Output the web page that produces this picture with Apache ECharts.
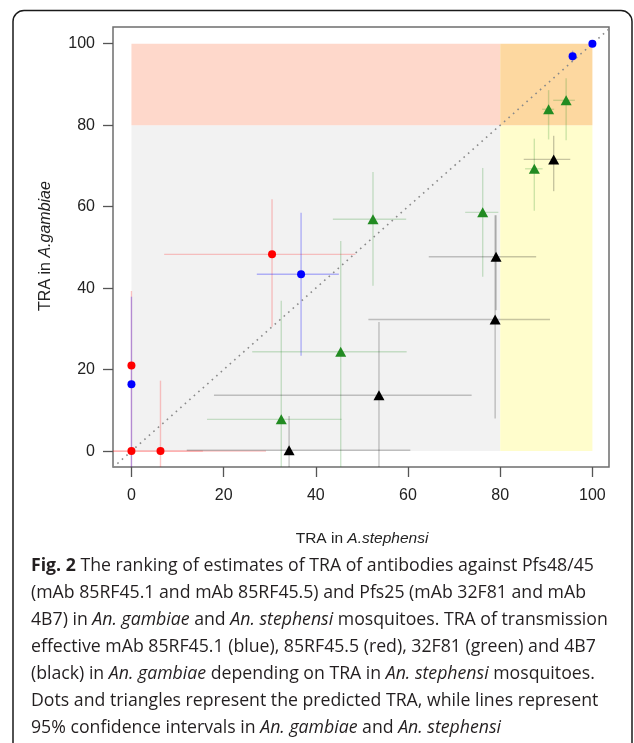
<!DOCTYPE html>
<html><head><meta charset="utf-8">
<script src="https://cdn.jsdelivr.net/npm/echarts@6/dist/echarts.min.js"></script>
<style>html,body{margin:0;padding:0;background:#fff}#c{width:634px;height:743px}</style>
</head><body><div id="c"></div>
<script>
// ---- data ----
const tickValues = [0, 20, 40, 60, 80, 100];
const zoneX = [0, 80, 100];
const zoneY = [0, 80, 100];
const diagonal = [[-5, -5], [105, 105]];

// mAb 85RF45.1 (blue)
const blueX   = [100, 95.7, 36.8, 0];
const blueY   = [100, 96.9, 43.4, 16.4];
const blueXlo = [100, 95.7, 27.2, 0];
const blueXhi = [100, 95.7, 45.0, 0];
const blueYlo = [100, 95.7, 23.4, -10];
const blueYhi = [100, 98.3, 58.5, 37.9];

// mAb 85RF45.5 (red)
const redX   = [30.5, 0, 0, 6.3];
const redY   = [48.3, 21.0, 0, 0];
const redXlo = [7.1, 0, -10, -10];
const redXhi = [48.6, 0, 15.5, 29.2];
const redYlo = [30.5, -10, 0, -10];
const redYhi = [61.8, 39.3, 0, 17.3];

// mAb 32F81 (green)
const greenX   = [94.3, 90.5, 87.4, 76.2, 52.4, 45.4, 32.5];
const greenY   = [86.1, 83.9, 69.3, 58.6, 56.9, 24.4, 7.8];
const greenXlo = [91.5, 89.1, 85.4, 72.4, 43.7, 26.2, 16.4];
const greenXhi = [96.2, 91.7, 89.2, 79.6, 59.6, 59.7, 45.6];
const greenYlo = [76.3, 76.5, 59.0, 42.8, 40.6, -10, -10];
const greenYhi = [91.5, 88.6, 76.7, 69.5, 68.5, 51.6, 36.9];

// mAb 4B7 (black)
const blackX   = [91.6, 79.1, 78.9, 53.7, 34.2];
const blackY   = [71.6, 47.7, 32.3, 13.7, 0.2];
const blackXlo = [85.1, 64.5, 51.4, 17.9, 12.0];
const blackXhi = [95.2, 87.8, 90.8, 73.8, 60.5];
const blackYlo = [63.8, 34.6, 8.0, -10, -10];
const blackYhi = [77.4, 57.9, 57.9, 31.7, 8.6];

const xTitle = ['TRA in ', 'A.stephensi'];
const yTitle = ['TRA in ', 'A.gambiae'];
const captionLines = [
  '{b|Fig. 2} The ranking of estimates of TRA of antibodies against Pfs48/45',
  '(mAb 85RF45.1 and mAb 85RF45.5) and Pfs25 (mAb 32F81 and mAb',
  '4B7) in {i|An. gambiae} and {i|An. stephensi} mosquitoes. TRA of transmission',
  'effective mAb 85RF45.1 (blue), 85RF45.5 (red), 32F81 (green) and 4B7',
  '(black) in {i|An. gambiae} depending on TRA in {i|An. stephensi} mosquitoes.',
  'Dots and triangles represent the predicted TRA, while lines represent',
  '95% confidence intervals in {i|An. gambiae} and {i|An. stephensi}'
];

// ---- helpers ----
function zip(xs, ys) { return xs.map((x, i) => [x, ys[i]]); }
function ciData(xs, ys, xlo, xhi, ylo, yhi) {
  return xs.map((x, i) => [x, ys[i], xlo[i], xhi[i], ylo[i], yhi[i]]);
}
function ciSeries(data, color) {
  return {
    type: 'custom', clip: true, z: 3, silent: true,
    data: data,
    encode: { x: 0, y: 1 },
    renderItem: function (params, api) {
      const x = api.value(0), y = api.value(1);
      const a = api.coord([api.value(2), y]), b = api.coord([api.value(3), y]);
      const c = api.coord([x, api.value(4)]), d = api.coord([x, api.value(5)]);
      const st = { stroke: color, lineWidth: 1.4, fill: null };
      return { type: 'group', children: [
        { type: 'line', shape: { x1: a[0], y1: a[1], x2: b[0], y2: b[1] }, style: st },
        { type: 'line', shape: { x1: c[0], y1: c[1], x2: d[0], y2: d[1] }, style: st }
      ]};
    }
  };
}

const chart = echarts.init(document.getElementById('c'), null, { renderer: 'canvas' });
const axisFont = 'Liberation Sans, Arial, sans-serif';
const capFont = 'Open Sans, sans-serif';
const capFontSize = 17.7;

const zoneColors = ['#F2F2F2', '#FFFDCC', '#FED8CB', '#FDD8A0'];

const graphics = [
  { type: 'rect', shape: { x: 13, y: 10.5, width: 619, height: 748, r: 11 },
    style: { fill: null, stroke: '#1a1a1a', lineWidth: 1.5 }, z: 100 },
  { type: 'text', x: 362, y: 539, z: 100,
    style: { text: xTitle[0] + '{i|' + xTitle[1] + '}', align: 'center', verticalAlign: 'middle',
      fontFamily: axisFont, fontSize: 15.5, fill: '#222',
      rich: { i: { fontFamily: axisFont, fontSize: 15.5, fontStyle: 'italic', fill: '#222' } } } },
  { type: 'text', x: 46, y: 246, rotation: Math.PI / 2, z: 100,
    style: { text: yTitle[0] + '{i|' + yTitle[1] + '}', align: 'center', verticalAlign: 'middle',
      fontFamily: axisFont, fontSize: 16, fill: '#222',
      rich: { i: { fontFamily: axisFont, fontSize: 16, fontStyle: 'italic', fill: '#222' } } } }
];
captionLines.forEach((t, k) => {
  graphics.push({ type: 'text', x: 31, y: 566 + k * 27, z: 100,
    style: { text: t, align: 'left', verticalAlign: 'middle',
      fontFamily: capFont, fontSize: capFontSize, fill: '#231f20',
      rich: {
        b: { fontFamily: capFont, fontSize: capFontSize, fontWeight: 'bold', fill: '#231f20' },
        i: { fontFamily: capFont, fontSize: capFontSize, fontStyle: 'italic', fill: '#231f20' }
      } } });
});

const option = {
  animation: false,
  backgroundColor: '#fff',
  grid: { left: 113, top: 27, width: 496, height: 440, show: true,
    borderColor: '#6e6e6e', borderWidth: 1.5, backgroundColor: 'transparent' },
  xAxis: {
    type: 'value', min: -4, max: 103.6,
    axisLine: { show: false, onZero: false },
    axisTick: { show: true, inside: false, length: 10, customValues: tickValues,
      lineStyle: { color: '#555', width: 1.3 } },
    axisLabel: { customValues: tickValues, margin: 21, fontSize: 16,
      fontFamily: axisFont, color: '#222' },
    splitLine: { show: false }
  },
  yAxis: {
    type: 'value', min: -3.9, max: 104.1,
    axisLine: { show: false, onZero: false },
    axisTick: { show: true, inside: false, length: 10, customValues: tickValues,
      lineStyle: { color: '#555', width: 1.3 } },
    axisLabel: { customValues: tickValues, margin: 18, fontSize: 16,
      fontFamily: axisFont, color: '#222' },
    splitLine: { show: false }
  },
  graphic: graphics,
  series: [
    { type: 'line', data: [], z: 1, silent: true,
      markArea: { silent: true, data: [
        [{ coord: [zoneX[0], zoneY[0]], itemStyle: { color: zoneColors[0] } }, { coord: [zoneX[1], zoneY[1]] }],
        [{ coord: [zoneX[1], zoneY[0]], itemStyle: { color: zoneColors[1] } }, { coord: [zoneX[2], zoneY[1]] }],
        [{ coord: [zoneX[0], zoneY[1]], itemStyle: { color: zoneColors[2] } }, { coord: [zoneX[1], zoneY[2]] }],
        [{ coord: [zoneX[1], zoneY[1]], itemStyle: { color: zoneColors[3] } }, { coord: [zoneX[2], zoneY[2]] }]
      ] } },
    ciSeries(ciData(redX, redY, redXlo, redXhi, redYlo, redYhi), 'rgba(255,0,0,0.22)'),
    ciSeries(ciData(blueX, blueY, blueXlo, blueXhi, blueYlo, blueYhi), 'rgba(0,0,255,0.28)'),
    ciSeries(ciData(greenX, greenY, greenXlo, greenXhi, greenYlo, greenYhi), 'rgba(34,139,34,0.22)'),
    ciSeries(ciData(blackX, blackY, blackXlo, blackXhi, blackYlo, blackYhi), 'rgba(0,0,0,0.22)'),
    { type: 'line', data: diagonal, z: 4, silent: true, showSymbol: false, clip: true,
      lineStyle: { color: '#8a8a8a', width: 1.6, type: [1.6, 4.4] } },
    { type: 'scatter', data: zip(redX, redY), symbol: 'circle', symbolSize: 8, z: 5,
      itemStyle: { color: '#FF0000', opacity: 1 } },
    { type: 'scatter', data: zip(blueX, blueY), symbol: 'circle', symbolSize: 8, z: 5,
      itemStyle: { color: '#0000FF', opacity: 1 } },
    { type: 'scatter', data: zip(greenX, greenY), symbol: 'triangle', symbolSize: [11, 10], z: 5,
      itemStyle: { color: '#228B22', opacity: 1 } },
    { type: 'scatter', data: zip(blackX, blackY), symbol: 'triangle', symbolSize: [11, 10], z: 5,
      itemStyle: { color: '#000000', opacity: 1 } }
  ]
};
chart.setOption(option);
</script>
</body></html>
